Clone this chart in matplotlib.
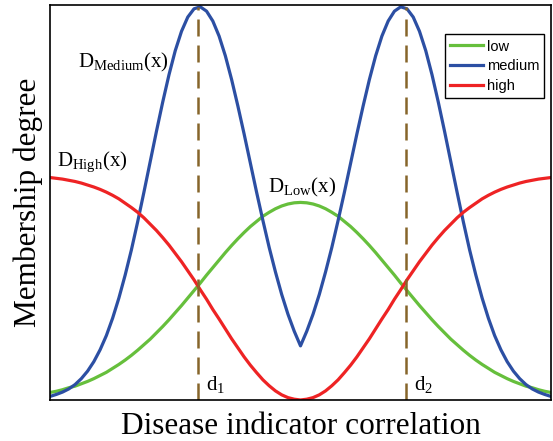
import numpy as np
import matplotlib
matplotlib.use('Agg')
import matplotlib.pyplot as plt

plt.rcParams['font.family'] = ['Liberation Serif', 'DejaVu Serif']
plt.rcParams['mathtext.fontset'] = 'custom'
plt.rcParams['mathtext.rm'] = 'Liberation Serif'

# x positions (0 = left edge, 1 = right edge of the plot)
x = np.linspace(0, 1, 81)

# membership values
low = [0.019, 0.022, 0.026, 0.031, 0.035, 0.041, 0.047, 0.054, 0.062, 0.070,
       0.080, 0.090, 0.101, 0.113, 0.126, 0.140, 0.154, 0.170, 0.186, 0.203,
       0.221, 0.239, 0.258, 0.277, 0.296, 0.316, 0.335, 0.354, 0.373, 0.391,
       0.408, 0.424, 0.439, 0.452, 0.465, 0.475, 0.484, 0.491, 0.496, 0.499,
       0.500,
       0.499, 0.496, 0.491, 0.484, 0.475, 0.465, 0.452, 0.439, 0.424, 0.408,
       0.391, 0.373, 0.354, 0.335, 0.316, 0.296, 0.277, 0.258, 0.239, 0.221,
       0.203, 0.186, 0.170, 0.154, 0.140, 0.126, 0.113, 0.101, 0.090, 0.080,
       0.070, 0.062, 0.054, 0.047, 0.041, 0.035, 0.031, 0.026, 0.022, 0.019]
medium = [0.009, 0.014, 0.020, 0.028, 0.039, 0.054, 0.073, 0.097, 0.127, 0.163,
          0.207, 0.258, 0.316, 0.380, 0.451, 0.526, 0.603, 0.680, 0.754, 0.823,
          0.884, 0.933, 0.969, 0.990, 0.995, 0.984, 0.959, 0.921, 0.871, 0.811,
          0.744, 0.673, 0.599, 0.525, 0.454, 0.386, 0.324, 0.267, 0.217, 0.174,
          0.137,
          0.174, 0.217, 0.267, 0.324, 0.386, 0.454, 0.525, 0.599, 0.673, 0.744,
          0.811, 0.871, 0.921, 0.959, 0.984, 0.995, 0.990, 0.969, 0.933, 0.884,
          0.823, 0.754, 0.680, 0.603, 0.526, 0.451, 0.380, 0.316, 0.258, 0.207,
          0.163, 0.127, 0.097, 0.073, 0.054, 0.039, 0.028, 0.020, 0.014, 0.009]
high = [0.563, 0.561, 0.559, 0.556, 0.553, 0.549, 0.544, 0.539, 0.533, 0.526,
        0.518, 0.509, 0.498, 0.487, 0.475, 0.461, 0.445, 0.429, 0.411, 0.392,
        0.371, 0.350, 0.327, 0.304, 0.279, 0.255, 0.229, 0.205, 0.180, 0.155,
        0.132, 0.109, 0.088, 0.069, 0.051, 0.036, 0.023, 0.013, 0.006, 0.002,
        0.000,
        0.002, 0.006, 0.013, 0.023, 0.036, 0.051, 0.069, 0.088, 0.109, 0.132,
        0.155, 0.180, 0.205, 0.229, 0.255, 0.279, 0.304, 0.327, 0.350, 0.371,
        0.392, 0.411, 0.429, 0.445, 0.461, 0.475, 0.487, 0.498, 0.509, 0.518,
        0.526, 0.533, 0.539, 0.544, 0.549, 0.553, 0.556, 0.559, 0.561, 0.563]

d1, d2 = 0.295, 0.711

fig = plt.figure(figsize=(5.53, 4.41), dpi=100)
ax = fig.add_axes([0.0904, 0.093, 0.906, 0.896])

ax.plot(x, low, color='#66bf3c', lw=2.3, label='low')
ax.plot(x, medium, color='#2c4fa3', lw=2.3, label='medium')
ax.plot(x, high, color='#ee2324', lw=2.3, label='high')

# dashed markers at d1 and d2
for d in (d1, d2):
    ax.plot([d, d], [0, 0.995], color='#86652a', lw=1.8, dashes=(6.8, 3.6))

ax.text(0.056, 0.853, r'D$_{\mathrm{Medium}}$(x)', fontsize=15, va='center')
ax.text(0.014, 0.600, r'D$_{\mathrm{High}}$(x)', fontsize=15, va='center')
ax.text(0.435, 0.539, r'D$_{\mathrm{Low}}$(x)', fontsize=15, va='center')
ax.text(0.311, 0.038, r'd$_{1}$', fontsize=15, va='center')
ax.text(0.727, 0.038, r'd$_{2}$', fontsize=15, va='center')

ax.set_xlim(0, 1)
ax.set_ylim(0, 1)
ax.set_xticks([])
ax.set_yticks([])
for s in ax.spines.values():
    s.set_linewidth(1.2)

ax.set_xlabel('Disease indicator correlation', fontsize=22.5, labelpad=8.5)
ax.set_ylabel('Membership degree', fontsize=22.5, labelpad=5)

leg = ax.legend(loc='upper right', bbox_to_anchor=(0.987, 0.925),
                prop={'family': 'Liberation Sans', 'size': 10.5},
                fancybox=False, edgecolor='black', framealpha=1,
                handlelength=2.3, handletextpad=0.25, borderpad=0.35,
                labelspacing=0.38, borderaxespad=0)
leg.get_frame().set_linewidth(1.0)

plt.savefig('out.png', dpi=100)
